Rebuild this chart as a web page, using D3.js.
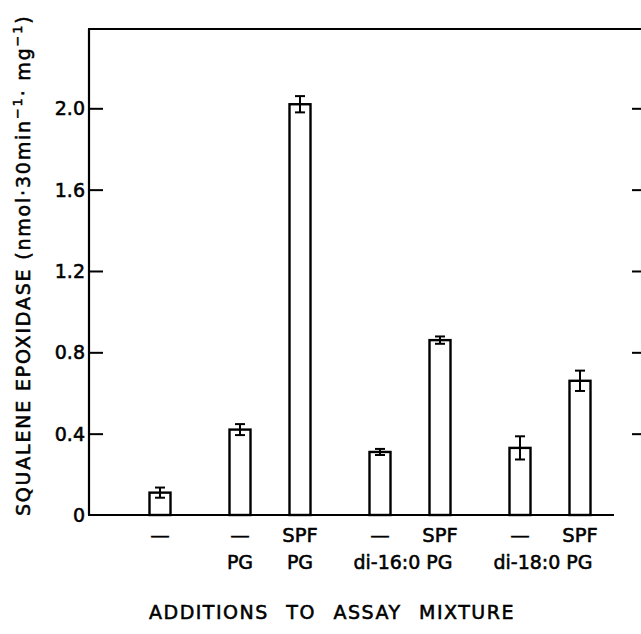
<!DOCTYPE html>
<html>
<head>
<meta charset="utf-8">
<script src="https://cdn.jsdelivr.net/npm/d3@7"></script>
<style>
  body { margin: 0; background: #fff; }
  svg text { font-family: "DejaVu Sans", sans-serif; fill: #000; stroke: #000; stroke-width: 0.55; }
</style>
</head>
<body>
<svg id="chart" width="641" height="634"></svg>
<script>
// Data
const line1 = ["\u2014", "\u2014", "SPF", "\u2014", "SPF", "\u2014", "SPF"];
const groups = [0, 1, 1, 2, 2, 3, 3];
const values = [0.11, 0.42, 2.02, 0.31, 0.86, 0.33, 0.66];
const errors = [0.025, 0.027, 0.04, 0.015, 0.018, 0.057, 0.05];
const groupLabels = ["", "", "", "di-16:0 PG", "", "di-18:0 PG", ""]; // line 2 spanning pairs
const pgLabels = ["", "PG", "PG"];
const yTicks = [0, 0.4, 0.8, 1.2, 1.6, 2.0];

const svg = d3.select("#chart");
const mLeft = 89, mRight = 641, mTop = 29, mBottom = 515;

const y = d3.scaleLinear().domain([0, 2.39]).range([mBottom, mTop]);
// slot position: each bar 3 slots, each new group adds 1 slot
const x = d3.scaleLinear().domain([0, 1]).range([160, 180]);
const pos = i => x(3 * i + groups[i]);
const barW = 21;

// frame: left axis, top line, baseline
svg.append("line").attr("x1", mLeft).attr("x2", mLeft).attr("y1", mTop).attr("y2", mBottom)
  .attr("stroke", "#000").attr("stroke-width", 2.2);
svg.append("line").attr("x1", mLeft - 1).attr("x2", mRight).attr("y1", mTop).attr("y2", mTop)
  .attr("stroke", "#000").attr("stroke-width", 2.2);
svg.append("line").attr("x1", mLeft - 1).attr("x2", 614).attr("y1", mBottom).attr("y2", mBottom)
  .attr("stroke", "#000").attr("stroke-width", 2.2);

// left axis ticks (inward) and labels
const yAxis = d3.axisRight(y).tickValues(yTicks.filter(d => d > 0)).tickSize(14).tickFormat("");
const ya = svg.append("g").attr("transform", `translate(${mLeft},0)`).call(yAxis);
ya.select(".domain").remove();
ya.selectAll("line").attr("stroke-width", 2);

svg.append("g").selectAll("text").data(yTicks).join("text")
  .attr("x", mLeft - 4).attr("y", d => y(d) + 7)
  .attr("text-anchor", "end").attr("font-size", 19)
  .text(d => d === 0 ? "0" : d.toFixed(1));

// right-side ticks
const yAxisR = d3.axisLeft(y).tickValues(yTicks.filter(d => d > 0)).tickSize(9).tickFormat("");
const yr = svg.append("g").attr("transform", `translate(${mRight},0)`).call(yAxisR);
yr.select(".domain").remove();
yr.selectAll("line").attr("stroke-width", 2);

// bars
svg.append("g").selectAll("rect").data(values).join("rect")
  .attr("x", (d, i) => pos(i) - barW / 2)
  .attr("y", d => y(d))
  .attr("width", barW)
  .attr("height", d => mBottom - y(d))
  .attr("fill", "#fff").attr("stroke", "#000").attr("stroke-width", 2.4);

// error bars
const eg = svg.append("g").attr("stroke", "#000").attr("stroke-width", 2);
values.forEach((v, i) => {
  const cx = pos(i), e = errors[i];
  eg.append("line").attr("x1", cx).attr("x2", cx).attr("y1", y(v + e)).attr("y2", y(v - e));
  [v + e, v - e].forEach(w => eg.append("line")
    .attr("x1", cx - 5).attr("x2", cx + 5).attr("y1", y(w)).attr("y2", y(w)));
});

// category labels
svg.append("g").selectAll("text").data(line1).join("text")
  .attr("x", (d, i) => pos(i)).attr("y", 542)
  .attr("text-anchor", "middle").attr("font-size", 19.5)
  .text(d => d);

svg.append("g").selectAll("text").data(pgLabels).join("text")
  .attr("x", (d, i) => pos(i)).attr("y", 569)
  .attr("text-anchor", "middle").attr("font-size", 19)
  .text(d => d);

svg.append("g").selectAll("text").data(groupLabels).join("text")
  .attr("x", (d, i) => d ? (pos(i) + pos(i + 1)) / 2 - 7 : 0).attr("y", 569)
  .attr("text-anchor", "middle").attr("font-size", 19)
  .text(d => d);

// x axis title
svg.append("text")
  .attr("x", 332).attr("y", 619)
  .attr("text-anchor", "middle").attr("font-size", 19)
  .attr("letter-spacing", 1.5).attr("word-spacing", 10)
  .text("ADDITIONS TO ASSAY MIXTURE");

// y axis title
const yt = svg.append("text")
  .attr("transform", `translate(30,${mBottom + 1}) rotate(-90)`)
  .attr("text-anchor", "start").attr("font-size", 19).attr("letter-spacing", 1.8);
yt.append("tspan").text("SQUALENE  EPOXIDASE (nmol\u00b730min");
yt.append("tspan").attr("dy", -8).attr("font-size", 13).text("\u22121");
yt.append("tspan").attr("dy", 8).text("\u00b7 mg");
yt.append("tspan").attr("dy", -8).attr("font-size", 13).text("\u22121");
yt.append("tspan").attr("dy", 8).text(")");
</script>
</body>
</html>
